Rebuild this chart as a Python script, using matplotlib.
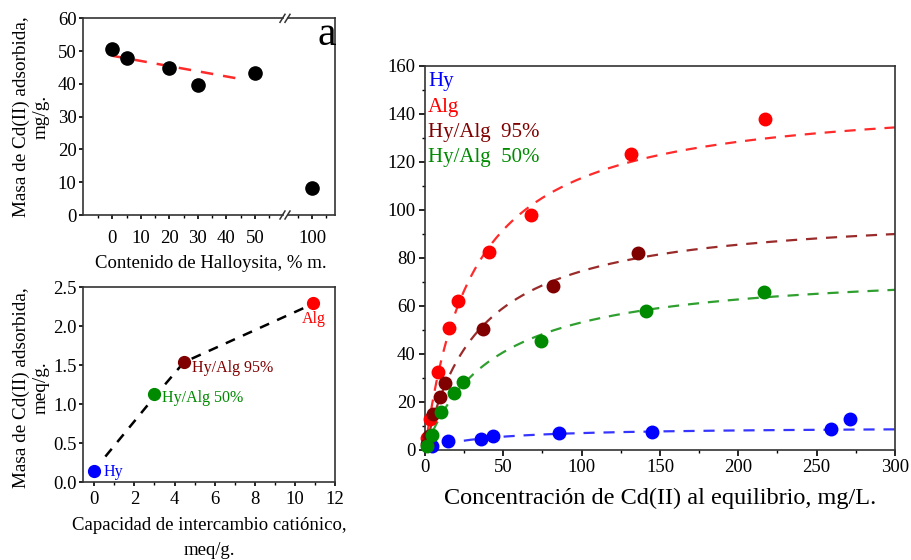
import numpy as np
import matplotlib
matplotlib.use("Agg")
import matplotlib.pyplot as plt
from matplotlib.ticker import MultipleLocator, FixedLocator

plt.rcParams['font.family'] = ['Liberation Serif', 'DejaVu Serif']
plt.rcParams['axes.linewidth'] = 1.2

# ---- data -------------------------------------------------------------
# (a) adsorbed Cd(II) vs halloysite content
hal_content = [0, 5, 20, 30, 50, 100]
hal_uptake = [50.6, 47.8, 44.7, 39.8, 43.4, 8.1]

# cation exchange capacity vs adsorbed Cd(II) (meq/g)
cec_names = ['Hy', 'Hy/Alg 50%', 'Hy/Alg 95%', 'Alg']
cec_x = [0.0, 2.98, 4.47, 10.9]
cec_y = [0.145, 1.128, 1.54, 2.30]
guide_x = [0.55, 2.98, 4.47, 10.45]
guide_y = [0.33, 1.09, 1.54, 2.235]

# adsorption isotherms: equilibrium concentration (mg/L) vs uptake (mg/g)
hy_ce = [4.2, 14.5, 35.7, 43.6, 85.5, 144.7, 258.9, 271.2]
hy_q = [1.7, 3.7, 4.6, 5.8, 6.9, 7.6, 8.6, 12.8]
alg_ce = [1.0, 3.0, 8.5, 15.3, 21.3, 40.8, 67.7, 131.5, 217.0]
alg_q = [5.0, 13.0, 32.6, 50.7, 62.2, 82.6, 97.9, 123.2, 137.8]
h95_ce = [1.2, 2.6, 5.3, 9.6, 12.8, 37.2, 81.9, 136.2]
h95_q = [2.5, 6.0, 15.0, 22.2, 27.8, 50.4, 68.5, 82.0]
h50_ce = [1.5, 4.3, 10.0, 18.7, 24.5, 73.8, 141.0, 216.5]
h50_q = [1.5, 6.2, 15.8, 23.6, 28.2, 45.5, 57.9, 66.0]

# Langmuir fit parameters (q_max in mg/g, K_L in L/mg)
langmuir = {
    'Hy': (9.66, 0.0271),
    'Alg': (148.2, 0.0325),
    'Hy/Alg  95%': (100.4, 0.0288),
    'Hy/Alg  50%': (76.5, 0.0228),
}

C_BLUE, C_RED, C_DRED, C_GREEN = '#0000ff', '#ff0000', '#800000', '#008a00'
L_BLUE, L_RED, L_DRED, L_GREEN = '#3535ff', '#ff2a2a', '#9a2b2b', '#2f9f2f'

fig = plt.figure(figsize=(9.12, 5.6), dpi=100)

def style(ax, fs=13.5, major=3.0, minor=2.0, pad=1.5):
    ax.tick_params(direction='out', which='both', labelsize=fs, top=False, right=False,
                   pad=pad)
    ax.tick_params(which='major', length=major, width=1.2)
    ax.tick_params(which='minor', length=minor, width=1.0)
    for s in ax.spines.values():
        s.set_color('#333333')

# ---- panel a (broken x axis) ------------------------------------------
W, H = 912, 560
def rect(l, r, t, b):
    return [l / W, 1 - b / H, (r - l) / W, (b - t) / H]

axa1 = fig.add_axes(rect(82.7, 283, 18.3, 215))
axa2 = fig.add_axes(rect(288, 335, 18.3, 215))
for ax in (axa1, axa2):
    style(ax, 13.5)
    ax.tick_params(axis='x', which='both', pad=7.5)
    ax.set_ylim(0, 60)
    ax.plot(hal_content, hal_uptake, 'o', color='black', ms=9.5, zorder=3, clip_on=True)
axa1.set_xlim(-10.4, 59.9)
axa2.set_xlim(91.6, 108)
axa1.spines['right'].set_visible(False)
axa2.spines['left'].set_visible(False)
axa2.tick_params(axis='y', which='both', left=False, labelleft=False)
axa1.yaxis.set_major_locator(MultipleLocator(10))
axa1.xaxis.set_major_locator(FixedLocator([0, 10, 20, 30, 40, 50]))
axa1.xaxis.set_minor_locator(FixedLocator([-5, 5, 15, 25, 35, 45, 55]))
axa2.xaxis.set_major_locator(FixedLocator([100]))
axa2.xaxis.set_minor_locator(FixedLocator([95, 105]))

# linear trend over the composite samples
mask = np.array(hal_content) <= 50
k, b0 = np.polyfit(np.array(hal_content)[mask], np.array(hal_uptake)[mask], 1)
xt = np.array([0, 45])
axa1.plot(xt, k * xt + b0, color=L_RED, lw=1.8, dashes=(5, 4), zorder=2)

# break marks
for yb in (18.3, 215):
    for dx in (-3, 2):
        x0 = 285.5 + dx
        fig.add_artist(plt.Line2D([(x0 - 2.5) / W, (x0 + 2.5) / W],
                                  [1 - (yb + 4) / H, 1 - (yb - 4) / H],
                                  color='#333333', lw=1.1))

fig.text(327 / W, 1 - 35 / H, 'a', fontsize=30, ha='center', va='center')
fig.text(211 / W, 1 - 263 / H, 'Contenido de Halloysita, % m.', fontsize=13.5,
         ha='center', va='center')
fig.text(31 / W, 1 - 117 / H, 'Masa de Cd(II) adsorbida,\nmg/g.', fontsize=13.8,
         ha='center', va='center', rotation=90, linespacing=1.2)

# ---- CEC panel ----------------------------------------------------------
axb = fig.add_axes(rect(82.7, 335, 287.3, 482.3))
style(axb, 13.5)
axb.tick_params(axis='x', which='both', pad=3)
axb.set_xlim(-0.58, 12)
axb.set_ylim(0, 2.5)
axb.xaxis.set_major_locator(MultipleLocator(2))
axb.xaxis.set_minor_locator(MultipleLocator(1))
axb.yaxis.set_major_locator(MultipleLocator(0.5))
axb.yaxis.set_major_formatter(matplotlib.ticker.FormatStrFormatter('%.1f'))
axb.plot(guide_x, guide_y, color='black', lw=1.8, dashes=(4, 3.5), zorder=2)
cec_colors = [C_BLUE, C_GREEN, C_DRED, C_RED]
for xv, yv, c in zip(cec_x, cec_y, cec_colors):
    axb.plot(xv, yv, 'o', color=c, ms=8.5, zorder=3, clip_on=False)
axb.text(cec_x[0] + 0.45, cec_y[0] - 0.01, cec_names[0], color=C_BLUE, fontsize=11.5, va='center')
axb.text(cec_x[1] + 0.4, cec_y[1] - 0.05, cec_names[1], color=C_GREEN, fontsize=11.5, va='center')
axb.text(cec_x[2] + 0.4, cec_y[2] - 0.07, cec_names[2], color=C_DRED, fontsize=11.5, va='center')
axb.text(cec_x[3] + 0.05, cec_y[3] - 0.2, cec_names[3], color=C_RED, fontsize=11.5,
         ha='center', va='center')
fig.text(209 / W, 1 - 538 / H, 'Capacidad de intercambio catiónico,\nmeq/g.', fontsize=13.5,
         ha='center', va='center', linespacing=1.55)
fig.text(31 / W, 1 - 388 / H, 'Masa de Cd(II) adsorbida,\nmeq/g.', fontsize=13.8,
         ha='center', va='center', rotation=90, linespacing=1.2)

# ---- isotherms ---------------------------------------------------------
axc = fig.add_axes(rect(425, 895, 66, 450))
style(axc, 13.5, major=4.3, minor=2.5, pad=2.5)
axc.set_xlim(0, 300)
axc.set_ylim(0, 160)
axc.xaxis.set_major_locator(MultipleLocator(50))
axc.xaxis.set_minor_locator(MultipleLocator(25))
axc.yaxis.set_major_locator(MultipleLocator(20))
axc.yaxis.set_minor_locator(MultipleLocator(10))

ce = np.linspace(0, 300, 400)
series = [
    ('Hy', hy_ce, hy_q, C_BLUE, L_BLUE),
    ('Alg', alg_ce, alg_q, C_RED, L_RED),
    ('Hy/Alg  95%', h95_ce, h95_q, C_DRED, L_DRED),
    ('Hy/Alg  50%', h50_ce, h50_q, C_GREEN, L_GREEN),
]
for name, xs, ys, c, lc in series:
    qm, kl = langmuir[name]
    axc.plot(ce, qm * kl * ce / (1 + kl * ce), color=lc, lw=1.6, dashes=(5, 4), zorder=2)
    axc.plot(xs, ys, 'o', color=c, ms=9, zorder=3, clip_on=False)

for i, (name, _, _, c, _) in enumerate(series):
    axc.text(1.9, 153.5 - 10.6 * i, name, color=c, fontsize=15, va='center', ha='left')

axc.set_xlabel('Concentración de Cd(II) al equilibrio, mg/L.', fontsize=17.5, labelpad=8)

fig.savefig('out.png', dpi=100)
